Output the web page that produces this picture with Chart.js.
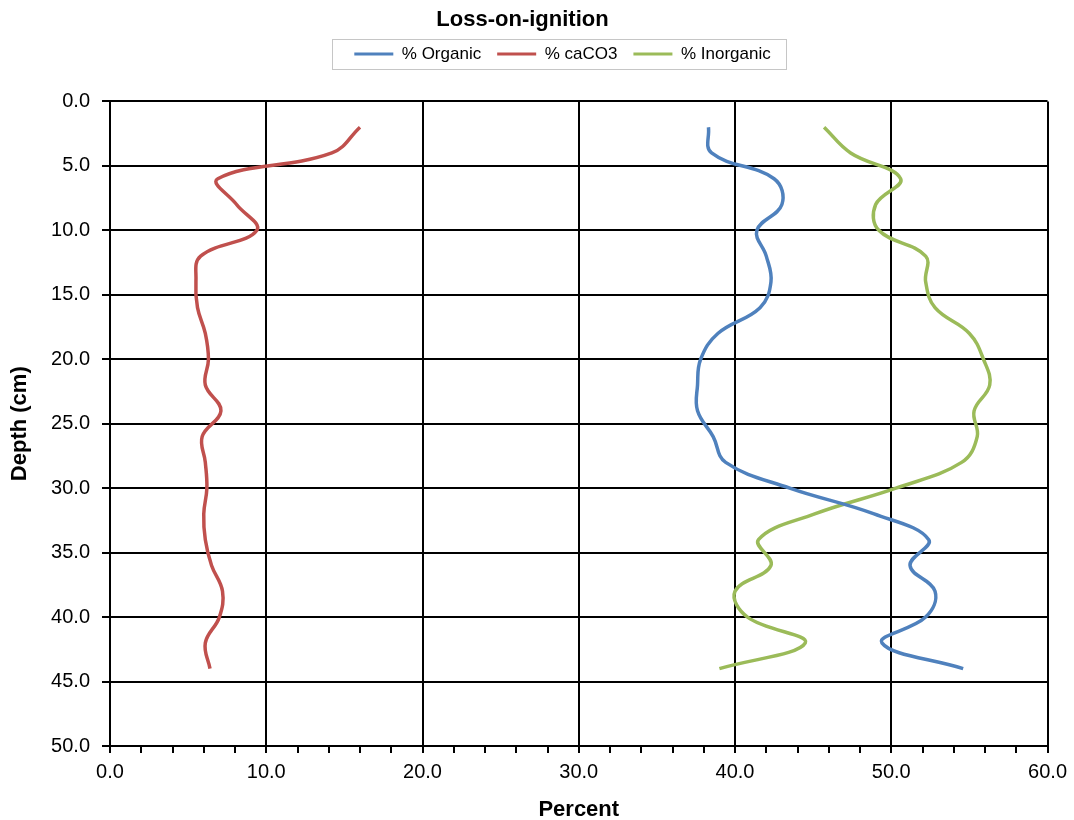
<!DOCTYPE html>
<html>
<head>
<meta charset="utf-8">
<title>Loss-on-ignition</title>
<script src="https://cdn.jsdelivr.net/npm/chart.js@4.4.1/dist/chart.umd.min.js"></script>
<style>
  body { margin: 0; background: #fff; }
  #wrap { width: 1074px; height: 820px; }
</style>
</head>
<body>
<div id="wrap"><canvas id="loiChart" width="1074" height="820"></canvas></div>
<script>
const depths = [2, 4, 6, 8, 10, 12, 14, 16, 18, 20, 22, 24, 26, 28, 30, 32, 34, 36, 38, 40, 42, 44];
const organic = [38.3, 38.5, 42.5, 43.0, 41.4, 42.0, 42.3, 41.6, 38.9, 37.8, 37.6, 37.6, 38.6, 39.4, 43.5, 48.9, 52.4, 51.2, 52.8, 52.2, 49.4, 54.6];
const caco3 = [16.0, 14.2, 6.9, 8.1, 9.4, 5.8, 5.5, 5.6, 6.1, 6.3, 6.1, 7.1, 5.9, 6.1, 6.2, 6.0, 6.1, 6.5, 7.2, 7.0, 6.1, 6.4];
const inorganic = [45.7, 47.4, 50.6, 49.0, 49.2, 52.2, 52.2, 52.8, 55.0, 55.9, 56.3, 55.3, 55.5, 54.5, 50.3, 45.1, 41.5, 42.3, 40.0, 40.8, 44.5, 39.0];

const seriesNames = ["% Organic", "% caCO3", "% Inorganic"];
const seriesColors = ["#4F81BD", "#C0504D", "#9BBB59"];

const FONT = "'Liberation Sans', Arial, sans-serif";

function toPoints(values) {
  return values.map((v, i) => ({ x: v, y: depths[i] }));
}

function shiftBox(box, dx, dy) {
  box.left += dx;
  box.right += dx;
  box.top += dy;
  box.bottom += dy;
}

// excel-ish layout: title a bit left, legend a bit right and higher, legend has a grey frame
const layoutTweaks = {
  id: "layoutTweaks",
  afterLayout(chart) {
    if (chart.titleBlock) shiftBox(chart.titleBlock, -3, -21);
    if (chart.legend) shiftBox(chart.legend, 37, -29);
  },
  afterDraw(chart) {
    const boxes = chart.legend && chart.legend.legendHitBoxes;
    if (!boxes || !boxes.length) return;
    const left = Math.min(...boxes.map((b) => b.left)) - 22;
    const right = Math.max(...boxes.map((b) => b.left + b.width)) + 16;
    const midY = boxes[0].top + boxes[0].height / 2;
    const ctx = chart.ctx;
    ctx.save();
    ctx.strokeStyle = "#c6c6c6";
    ctx.lineWidth = 1;
    ctx.strokeRect(Math.round(left) + 0.5, Math.round(midY - 15) + 0.5, Math.round(right - left), 30);
    ctx.restore();
  },
};

const canvas = document.getElementById("loiChart");

new Chart(canvas, {
  type: "scatter",
  data: {
    datasets: [
      { label: seriesNames[0], data: toPoints(organic) },
      { label: seriesNames[1], data: toPoints(caco3) },
      { label: seriesNames[2], data: toPoints(inorganic) },
    ].map((ds, i) => ({
      ...ds,
      showLine: true,
      borderColor: seriesColors[i],
      backgroundColor: seriesColors[i],
      borderWidth: 3.5,
      pointRadius: 0,
      pointHoverRadius: 0,
      tension: 0.4,
    })),
  },
  options: {
    responsive: false,
    animation: false,
    layout: { padding: { left: 3, right: 26, top: 23, bottom: 0 } },
    plugins: {
      tooltip: { enabled: false },
      title: {
        display: true,
        text: "Loss-on-ignition",
        color: "#000",
        font: { family: FONT, size: 22, weight: "bold" },
        padding: { top: 5, bottom: 4 },
      },
      legend: {
        position: "top",
        labels: {
          color: "#000",
          font: { family: FONT, size: 17 },
          boxWidth: 39,
          boxHeight: 3,
          padding: 16,
          generateLabels(chart) {
            return chart.data.datasets.map((ds, i) => ({
              text: ds.label,
              fillStyle: ds.borderColor,
              strokeStyle: ds.borderColor,
              lineWidth: 0,
              fontColor: "#000",
              datasetIndex: i,
              hidden: false,
            }));
          },
        },
      },
    },
    scales: {
      x: {
        type: "linear",
        position: "bottom",
        min: 0,
        max: 60,
        afterFit(scale) {
          scale.height = 74;
        },
        ticks: {
          stepSize: 2,
          autoSkip: false,
          maxRotation: 0,
          color: "#000",
          padding: 7,
          font: { family: FONT, size: 20 },
          callback: (v) => (v % 10 === 0 ? v.toFixed(1) : ""),
        },
        grid: {
          color: (ctx) => (ctx.tick && ctx.tick.value % 10 === 0 ? "#000" : "rgba(0,0,0,0)"),
          tickColor: "#000",
          lineWidth: 2,
          tickLength: 7,
        },
        border: { color: "#000", width: 2 },
        title: {
          display: true,
          text: "Percent",
          color: "#000",
          font: { family: FONT, size: 22, weight: "bold" },
          padding: { top: 4, bottom: -3 },
        },
      },
      y: {
        type: "linear",
        reverse: true,
        min: 0,
        max: 50,
        afterFit(scale) {
          scale.width = 107;
        },
        ticks: {
          stepSize: 5,
          color: "#000",
          padding: 12,
          font: { family: FONT, size: 20 },
          callback: (v) => v.toFixed(1),
        },
        grid: {
          color: "#000",
          lineWidth: 2,
          tickLength: 8,
        },
        border: { color: "#000", width: 2 },
        title: {
          display: true,
          text: "Depth (cm)",
          color: "#000",
          font: { family: FONT, size: 22, weight: "bold" },
          padding: { top: 4, bottom: 4 },
        },
      },
    },
  },
  plugins: [layoutTweaks],
});
</script>
</body>
</html>
